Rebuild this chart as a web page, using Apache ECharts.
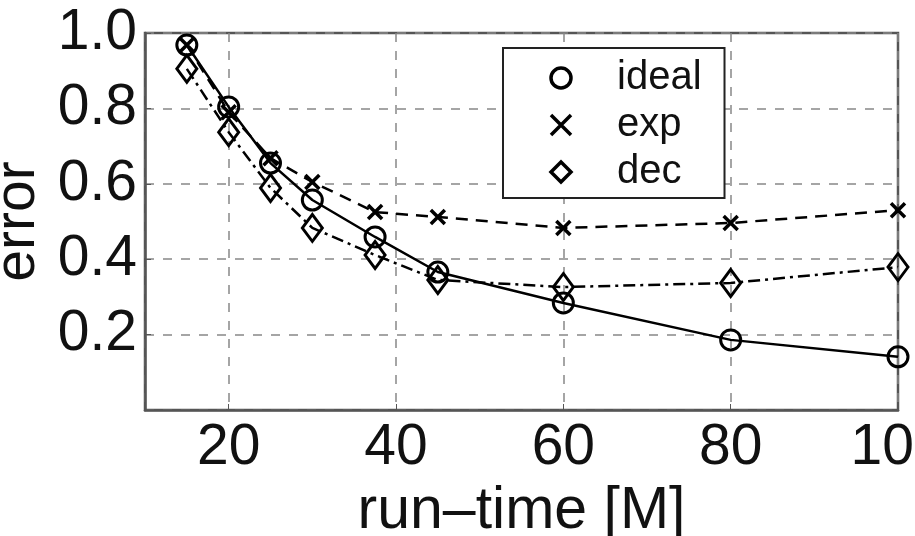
<!DOCTYPE html>
<html>
<head>
<meta charset="utf-8">
<script src="https://cdn.jsdelivr.net/npm/echarts@6/dist/echarts.min.js"></script>
<style>
  html, body { margin: 0; padding: 0; background: #fff; }
  #chart { width: 915px; height: 536px; }
</style>
</head>
<body>
<div id="chart"></div>
<script>
// run-time values (x) and error for each method
const runTime = [15, 20, 25, 30, 37.5, 45, 60, 80, 100];
const ideal = [0.968, 0.804, 0.655, 0.557, 0.459, 0.366, 0.284, 0.186, 0.141];
const expErr = [0.968, 0.79, 0.668, 0.605, 0.525, 0.512, 0.483, 0.496, 0.53];
const dec = [0.905, 0.737, 0.589, 0.483, 0.411, 0.345, 0.326, 0.337, 0.379];

const font = 'Liberation Sans';
const crossPath = 'path://M0,0L10,10M0,10L10,0';

function pairs(ys) {
  return runTime.map((x, i) => [x, ys[i]]);
}

const chart = echarts.init(document.getElementById('chart'));

chart.setOption({
  backgroundColor: '#fff',
  animation: false,
  grid: {
    left: 145, right: 17, top: 33, bottom: 126,
    outerBoundsMode: 'none',
    show: true, borderColor: '#555', borderWidth: 2.5
  },
  xAxis: {
    type: 'value',
    min: 10, max: 100,
    splitNumber: 5,
    name: 'run–time [M]',
    nameLocation: 'middle',
    nameGap: 67,
    nameTextStyle: { fontFamily: font, fontSize: 59, color: '#111' },
    axisLine: { lineStyle: { color: '#555', width: 2.5 } },
    axisTick: { inside: true, length: 6, lineStyle: { color: '#555' } },
    axisLabel: {
      showMinLabel: false,
      margin: 10,
      fontFamily: font, fontSize: 57, color: '#111'
    },
    splitLine: { lineStyle: { color: '#888', width: 1.5, type: [9, 9] } }
  },
  yAxis: {
    type: 'value',
    min: 0, max: 1, interval: 0.2,
    name: 'error',
    nameLocation: 'middle',
    nameGap: 90,
    nameTextStyle: { fontFamily: font, fontSize: 57, color: '#111' },
    axisLine: { show: true, lineStyle: { color: '#555', width: 2.5 } },
    axisTick: { show: true, inside: true, length: 6, lineStyle: { color: '#555' } },
    axisLabel: {
      showMinLabel: false,
      margin: 8,
      fontFamily: font, fontSize: 57, color: '#111',
      formatter: v => v.toFixed(1)
    },
    splitLine: { lineStyle: { color: '#888', width: 1.5, type: [9, 9] } }
  },
  legend: {
    left: 503, top: 48,
    orient: 'vertical',
    itemWidth: 102, itemHeight: 25,
    itemGap: 7,
    padding: [10, 23, 6, 6],
    backgroundColor: '#fff',
    borderColor: '#222', borderWidth: 2,
    lineStyle: { opacity: 0 },
    itemStyle: { borderColor: '#000', borderWidth: 3.5 },
    textStyle: { fontFamily: font, fontSize: 40, color: '#111' },
    data: ['ideal', 'exp', 'dec']
  },
  series: [
    {
      name: 'ideal', type: 'line',
      data: pairs(ideal),
      symbol: 'circle', symbolSize: 20,
      itemStyle: { color: 'transparent', borderColor: '#000', borderWidth: 3 },
      lineStyle: { color: '#000', width: 2.5, type: 'solid' },
      z: 4
    },
    {
      name: 'exp', type: 'line',
      data: pairs(expErr),
      symbol: crossPath, symbolSize: 14,
      itemStyle: { color: 'transparent', borderColor: '#000', borderWidth: 3.5 },
      lineStyle: { color: '#000', width: 2.5, type: [12, 8] },
      z: 3
    },
    {
      name: 'dec', type: 'line',
      data: pairs(dec),
      symbol: 'diamond', symbolSize: [20, 27],
      itemStyle: { color: 'transparent', borderColor: '#000', borderWidth: 3 },
      lineStyle: { color: '#000', width: 2.5, type: [12, 5, 3, 5] },
      z: 3
    }
  ]
});
</script>
</body>
</html>
